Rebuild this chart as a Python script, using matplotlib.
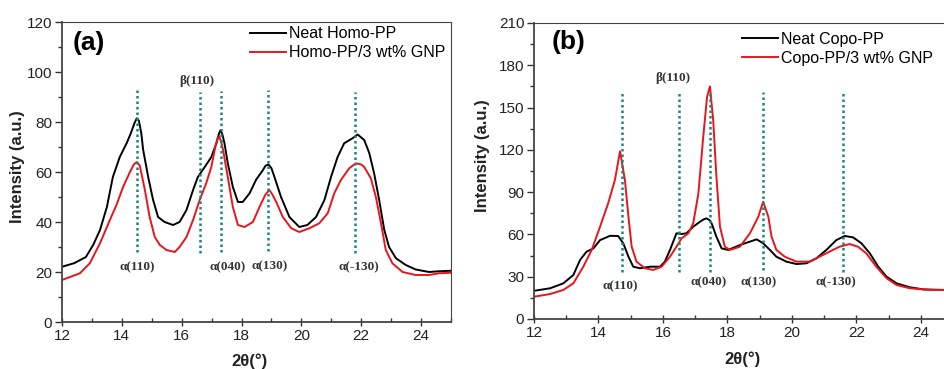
import matplotlib
matplotlib.use("Agg")
import matplotlib.pyplot as plt
from matplotlib.ticker import MultipleLocator

plt.rcParams['font.family'] = ['Liberation Sans', 'DejaVu Sans']

# (a) homo-PP
homo_x_neat = [12.0, 12.4, 12.8, 13.05, 13.27, 13.5, 13.7, 13.93, 14.16, 14.3, 14.42, 14.5, 14.57,
               14.65, 14.71, 14.88, 15.04, 15.21, 15.43, 15.71, 15.93, 16.16, 16.38, 16.54, 16.77,
               16.99, 17.16, 17.25, 17.3, 17.36, 17.43, 17.54, 17.71, 17.88, 18.04, 18.27, 18.49,
               18.7, 18.8, 18.9, 19.0, 19.1, 19.32, 19.6, 19.93, 20.2, 20.49, 20.77, 20.99, 21.21,
               21.43, 21.71, 21.88, 22.1, 22.27, 22.43, 22.6, 22.77, 22.93, 23.16, 23.49, 23.82,
               24.27, 24.6, 25.0]
homo_y_neat = [22.1, 23.5, 26, 31, 36.8, 46, 58, 66, 71.5, 75.5, 79.5, 81.5, 80.5,
               75.5, 69, 58, 49, 42, 40, 38.8, 40, 44.8, 52.8, 58, 62,
               66, 71.5, 75.5, 76.8, 75, 71.5, 63.5, 54, 48, 48, 51.5, 57,
               60.5, 62.5, 63, 61.5, 58, 50, 42, 38, 38.8, 42, 48.8, 58, 66,
               71.5, 73.5, 75, 72.8, 67.5, 59.5, 48.8, 36.8, 30, 25.5, 22.8, 21,
               20, 20.3, 20.5]

homo_x_gnp = [12.0, 12.6, 12.93, 13.27, 13.6, 13.82, 14.04, 14.27, 14.4, 14.5, 14.6, 14.68, 14.77,
              14.93, 15.1, 15.27, 15.49, 15.77, 15.93, 16.16, 16.38, 16.6, 16.82, 16.99, 17.13,
              17.2, 17.26, 17.32, 17.38, 17.54, 17.71, 17.88, 18.1, 18.38, 18.6, 18.8, 18.93,
              19.03, 19.16, 19.38, 19.66, 19.93, 20.27, 20.6, 20.88, 21.1, 21.32, 21.6, 21.82,
              22.0, 22.1, 22.32, 22.49, 22.66, 22.82, 23.04, 23.38, 23.82, 24.27, 24.6, 25.0]
homo_y_gnp = [16.8, 19.5, 23.5, 31.5, 40.8, 46.8, 54, 60, 63, 64, 62.5, 58, 52.8,
              42, 34, 30.8, 28.8, 28, 30, 34, 40.8, 48.8, 55.5, 62, 70.5,
              73.5, 74, 72, 69, 58, 46, 38.8, 38, 40, 46, 51, 52.8,
              51, 48, 42, 37.5, 36, 37.5, 39.5, 43.5, 51.5, 56.8, 61.5, 63.5,
              63, 62, 57.5, 50, 39.5, 28.8, 23.5, 20, 18.8, 18.8, 19.5, 19.7]

# (b) copo-PP
copo_x_neat = [12.0, 12.5, 12.91, 13.22, 13.43, 13.63, 13.84, 14.05, 14.36, 14.61, 14.77, 14.93,
               15.08, 15.29, 15.6, 15.91, 16.06, 16.22, 16.42, 16.58, 16.73, 16.94, 17.15, 17.25,
               17.35, 17.45, 17.51, 17.66, 17.82, 18.03, 18.39, 18.7, 18.91, 19.11, 19.32, 19.52,
               19.83, 20.14, 20.45, 20.76, 21.07, 21.38, 21.64, 21.9, 22.16, 22.42, 22.68, 22.94,
               23.25, 23.66, 24.08, 24.75, 25.0]
copo_y_neat = [20, 21.8, 25.3, 31.2, 41.9, 47.8, 50, 56, 59, 58.9, 53.7, 44.2,
               37.1, 36, 37.1, 37.1, 40.7, 49, 60.8, 60.3, 60.8, 65.5, 69, 70.5,
               71.4, 70, 67.9, 58.4, 50.1, 49, 52.5, 54.9, 56.5, 53.7, 49, 44.2,
               40.7, 39, 39.5, 43, 49, 56, 58.9, 57.9, 53.7, 46.6, 37.1, 30,
               25.3, 22.5, 21, 20.6, 20.5]

copo_x_gnp = [12.0, 12.5, 12.91, 13.22, 13.53, 13.79, 14.05, 14.3, 14.51, 14.67, 14.82, 14.93,
              15.03, 15.18, 15.44, 15.7, 15.96, 16.22, 16.42, 16.58, 16.79, 16.94, 17.1, 17.25,
              17.37, 17.46, 17.56, 17.66, 17.77, 17.92, 18.08, 18.39, 18.7, 18.96, 19.11, 19.27,
              19.37, 19.52, 19.78, 20.14, 20.55, 20.86, 21.17, 21.48, 21.79, 22.05, 22.31, 22.62,
              22.94, 23.25, 23.66, 24.28, 24.75, 25.0]
copo_y_gnp = [15.8, 17.7, 20.6, 25.3, 37.1, 49, 65.5, 82, 98.6, 119, 98.6, 72.6,
              51.3, 40.7, 36, 34.8, 37.1, 44.2, 51.3, 57.2, 60.8, 67.9, 89, 129,
              157.7, 165, 141, 101, 65.5, 51.3, 49, 51.3, 60.8, 72.6, 83.2, 72.6,
              58.4, 49, 44.2, 40.7, 40.7, 44.2, 47.8, 51.3, 53.2, 51.3, 46.6, 37.1,
              28.9, 24.1, 21.8, 20.6, 20.6, 20.5]

# reflection markers: position, line bottom/top, label x/y
peak_names = ['α(110)', 'β(110)', 'α(040)', 'α(130)', 'α(-130)']
homo_peaks = [14.5, 16.6, 17.3, 18.88, 21.8]
homo_lines = [(28, 93), (27.5, 92), (28, 92.5), (28.5, 93), (27.5, 92)]
homo_lab_x = [14.53, 16.52, 17.53, 18.94, 21.92]
homo_lab_y = [22, 96.5, 22, 22.3, 22]
copo_peaks = [14.72, 16.51, 17.46, 19.12, 21.59]
copo_lines = [(33.5, 160), (33.5, 160.5), (33.5, 161), (34.5, 161), (33.5, 160.5)]
copo_lab_x = [14.67, 16.3, 17.41, 18.96, 21.38]
copo_lab_y = [23.4, 171, 25.8, 25.8, 25.8]

RED = '#e8161b'
TEAL = '#16897c'

fig = plt.figure(figsize=(9.45, 3.69), dpi=100)
ax1 = fig.add_axes([62/945, 47/369, 389/945, 300/369])
ax2 = fig.add_axes([534/945, 50/369, 419/945, 296/369])


def style(ax, ymax, ystep):
    ax.set_xlim(12, 25)
    ax.set_ylim(0, ymax)
    ax.xaxis.set_major_locator(MultipleLocator(2))
    ax.xaxis.set_minor_locator(MultipleLocator(1))
    ax.yaxis.set_major_locator(MultipleLocator(ystep))
    ax.yaxis.set_minor_locator(MultipleLocator(ystep / 2))
    for s in ax.spines.values():
        s.set_color('#444444')
        s.set_linewidth(0.8)
    ax.spines['left'].set_linewidth(1.3)
    ax.spines['bottom'].set_linewidth(1.3)
    ax.tick_params(axis='x', which='major', direction='inout', length=6, width=1,
                   labelsize=11, colors='#333333', labelcolor='#222222', pad=2)
    ax.tick_params(axis='x', which='minor', direction='in', length=3, width=1, colors='#333333')
    ax.tick_params(axis='y', which='major', direction='out', length=5, width=1,
                   labelsize=11, colors='#333333', labelcolor='#222222', pad=2)
    ax.tick_params(axis='y', which='minor', direction='out', length=3, width=1, colors='#333333')
    for lab in ax.get_xticklabels() + ax.get_yticklabels():
        lab.set_family(['Liberation Sans Narrow', 'Liberation Sans'])


def markers(ax, peaks, lines, lab_x, lab_y):
    for p, (lo, hi), lx, ly, name in zip(peaks, lines, lab_x, lab_y, peak_names):
        ax.vlines(p, lo, hi, colors=TEAL, linestyles=(0, (1, 1.2)), linewidth=1.8, zorder=3)
        ax.text(lx, ly, name, ha='center', va='center', fontsize=9.5, fontweight='bold',
                family=['Liberation Serif', 'DejaVu Serif'], color='#333333')


# panel (a)
ax1.plot(homo_x_neat, homo_y_neat, color='black', lw=1.4, label='Neat Homo-PP')
ax1.plot(homo_x_gnp, homo_y_gnp, color=RED, lw=1.4, label='Homo-PP/3 wt% GNP')
style(ax1, 120, 20)
markers(ax1, homo_peaks, homo_lines, homo_lab_x, homo_lab_y)
ax1.text(0.028, 0.93, '(a)', transform=ax1.transAxes, fontsize=19, fontweight='bold',
         ha='left', va='center')
ax1.legend(loc='upper left', bbox_to_anchor=(0.483, 0.985), frameon=False, fontsize=11.5,
           handlelength=2.25, handletextpad=0.2, labelspacing=0.25, borderpad=0,
           borderaxespad=0)

# panel (b)
ax2.plot(copo_x_neat, copo_y_neat, color='black', lw=1.4, label='Neat Copo-PP')
ax2.plot(copo_x_gnp, copo_y_gnp, color=RED, lw=1.4, label='Copo-PP/3 wt% GNP')
style(ax2, 210, 30)
markers(ax2, copo_peaks, copo_lines, copo_lab_x, copo_lab_y)
ax2.text(0.043, 0.936, '(b)', transform=ax2.transAxes, fontsize=19, fontweight='bold',
         ha='left', va='center')
ax2.legend(loc='upper left', bbox_to_anchor=(0.496, 0.97), frameon=False, fontsize=11.5,
           handlelength=2.25, handletextpad=0.2, labelspacing=0.25, borderpad=0,
           borderaxespad=0)

# axis titles
fig.text(18/945, 1 - 167/369, 'Intensity (a.u.)', rotation=90, ha='center', va='center',
         fontsize=12, fontweight='bold', color='#222222')
fig.text(483/945, 1 - 156/369, 'Intensity (a.u.)', rotation=90, ha='center', va='center',
         fontsize=12, fontweight='bold', color='#222222')
fig.text(250/945, 1 - 361/369, '2θ(°)', ha='center', va='center', fontsize=12,
         fontweight='bold', color='#222222')
fig.text(743/945, 1 - 359/369, '2θ(°)', ha='center', va='center', fontsize=12,
         fontweight='bold', color='#222222')

fig.savefig('out.png', dpi=100)
